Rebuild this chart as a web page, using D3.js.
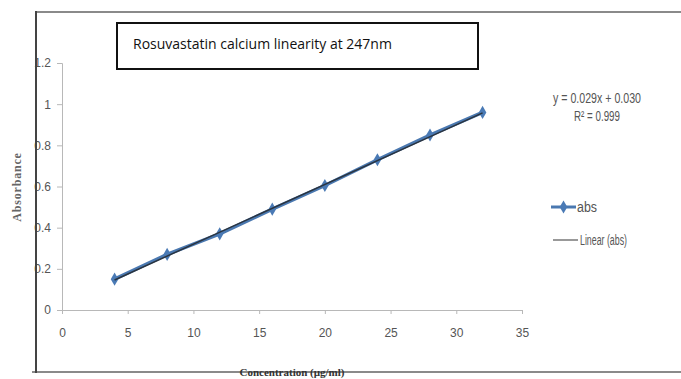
<!DOCTYPE html>
<html>
<head>
<meta charset="utf-8">
<script src="https://cdn.jsdelivr.net/npm/d3@7"></script>
<style>
  body { margin: 0; background: #fff; }
  svg { display: block; }
  .axis path, .axis line { stroke: #b8b8b8; }
  .axis text { fill: #555; font-family: "Liberation Sans", sans-serif; font-size: 12px; }
</style>
</head>
<body>
<svg id="chart" width="681" height="379"></svg>
<script>
// concentration (ug/ml) and absorbance
var conc = [4, 8, 12, 16, 20, 24, 28, 32];
var abs = [0.15, 0.27, 0.37, 0.49, 0.605, 0.73, 0.85, 0.96];
var xTicks = [0, 5, 10, 15, 20, 25, 30, 35];
var yTicks = [0, 0.2, 0.4, 0.6, 0.8, 1, 1.2];
var slope = 0.029, intercept = 0.030; // linear fit shown on chart
var titleText = "Rosuvastatin calcium linearity at 247nm";
var eqText = ["y = 0.029x + 0.030", "R\u00b2 = 0.999"];
var legendText = ["abs", "Linear (abs)"];

var svg = d3.select("#chart");
var narrow = "'Liberation Sans', sans-serif";

var x = d3.scaleLinear().domain([0, 35]).range([62, 522]);
var y = d3.scaleLinear().domain([0, 1.2]).range([310, 63]);

// outer frame (top and bottom)
svg.append("line").attr("x1", 36).attr("y1", 12).attr("x2", 681).attr("y2", 12)
	.attr("stroke", "#8a8a8a").attr("stroke-width", 2);
svg.append("line").attr("x1", 32).attr("y1", 372).attr("x2", 681).attr("y2", 372)
	.attr("stroke", "#8a8a8a").attr("stroke-width", 2);

// axes
svg.append("g").attr("class", "axis")
	.attr("transform", "translate(0," + y(0) + ")")
	.call(d3.axisBottom(x).tickValues(xTicks).tickSize(4).tickPadding(14).tickFormat(d3.format("d")));
svg.append("g").attr("class", "axis")
	.attr("transform", "translate(" + x(0) + ",0)")
	.call(d3.axisLeft(y).tickValues(yTicks).tickSize(5).tickPadding(6).tickFormat(function(d) { return d3.format("")(d); }));

// left frame line drawn over the labels
svg.append("line").attr("x1", 36).attr("y1", 11).attr("x2", 36).attr("y2", 373)
	.attr("stroke", "#444").attr("stroke-width", 2);

// data series
var pts = conc.map(function(c, i) { return {x: c, y: abs[i]}; });
var line = d3.line().x(function(d) { return x(d.x); }).y(function(d) { return y(d.y); });
svg.append("path").datum(pts).attr("d", line)
	.attr("fill", "none").attr("stroke", "#4a78b0").attr("stroke-width", 3.5);
var diamond = d3.symbol().type(d3.symbolDiamond).size(50);
svg.selectAll(".pt").data(pts).enter().append("path")
	.attr("class", "pt")
	.attr("transform", function(d) { return "translate(" + x(d.x) + "," + y(d.y) + ")"; })
	.attr("d", diamond).attr("fill", "#4a7ab5");

// trend line
var x0 = d3.min(conc), x1 = d3.max(conc);
svg.append("line")
	.attr("x1", x(x0)).attr("y1", y(slope * x0 + intercept))
	.attr("x2", x(x1)).attr("y2", y(slope * x1 + intercept))
	.attr("stroke", "#2a3440").attr("stroke-width", 1.5);

// title box
svg.append("rect").attr("x", 117).attr("y", 23).attr("width", 361).attr("height", 46)
	.attr("fill", "#fff").attr("stroke", "#111").attr("stroke-width", 2);
svg.append("text").attr("x", 133).attr("y", 49).text(titleText)
	.attr("font-family", "'Open Sans', sans-serif").attr("font-size", 14).attr("fill", "#111");

// equation
svg.selectAll(".eq").data(eqText).enter().append("text")
	.attr("x", function(d, i) { return i ? 574 : 553; })
	.attr("y", function(d, i) { return 103 + i * 18; })
	.attr("textLength", function(d, i) { return i ? 46 : 88; })
	.attr("lengthAdjust", "spacingAndGlyphs")
	.text(function(d) { return d; })
	.attr("font-family", narrow).attr("font-size", 14).attr("fill", "#555");

// legend
svg.append("line").attr("x1", 551).attr("y1", 207).attr("x2", 576).attr("y2", 207)
	.attr("stroke", "#4a78b0").attr("stroke-width", 3);
svg.append("path").attr("transform", "translate(563.5,207)").attr("d", diamond).attr("fill", "#4a7ab5");
svg.append("line").attr("x1", 553).attr("y1", 240).attr("x2", 578).attr("y2", 240)
	.attr("stroke", "#555").attr("stroke-width", 1.2);
svg.selectAll(".leg").data(legendText).enter().append("text")
	.attr("x", function(d, i) { return i ? 580 : 577; })
	.attr("y", function(d, i) { return 212 + i * 33; })
	.attr("textLength", function(d, i) { return i ? 47 : 20; })
	.attr("lengthAdjust", "spacingAndGlyphs")
	.text(function(d) { return d; })
	.attr("font-family", narrow).attr("font-size", 14).attr("fill", "#555");

// axis titles
svg.append("text").attr("transform", "translate(21,187) rotate(-90)")
	.attr("text-anchor", "middle").text("Absorbance")
	.attr("font-family", "'Liberation Serif', serif").attr("font-weight", "bold")
	.attr("font-size", 12).attr("letter-spacing", 0.8).attr("fill", "#666");
svg.append("text").attr("x", 292).attr("y", 376)
	.attr("text-anchor", "middle").text("Concentration (\u00b5g/ml)")
	.attr("font-family", "'Liberation Serif', serif").attr("font-weight", "bold")
	.attr("font-size", 11).attr("fill", "#333");
</script>
</body>
</html>
